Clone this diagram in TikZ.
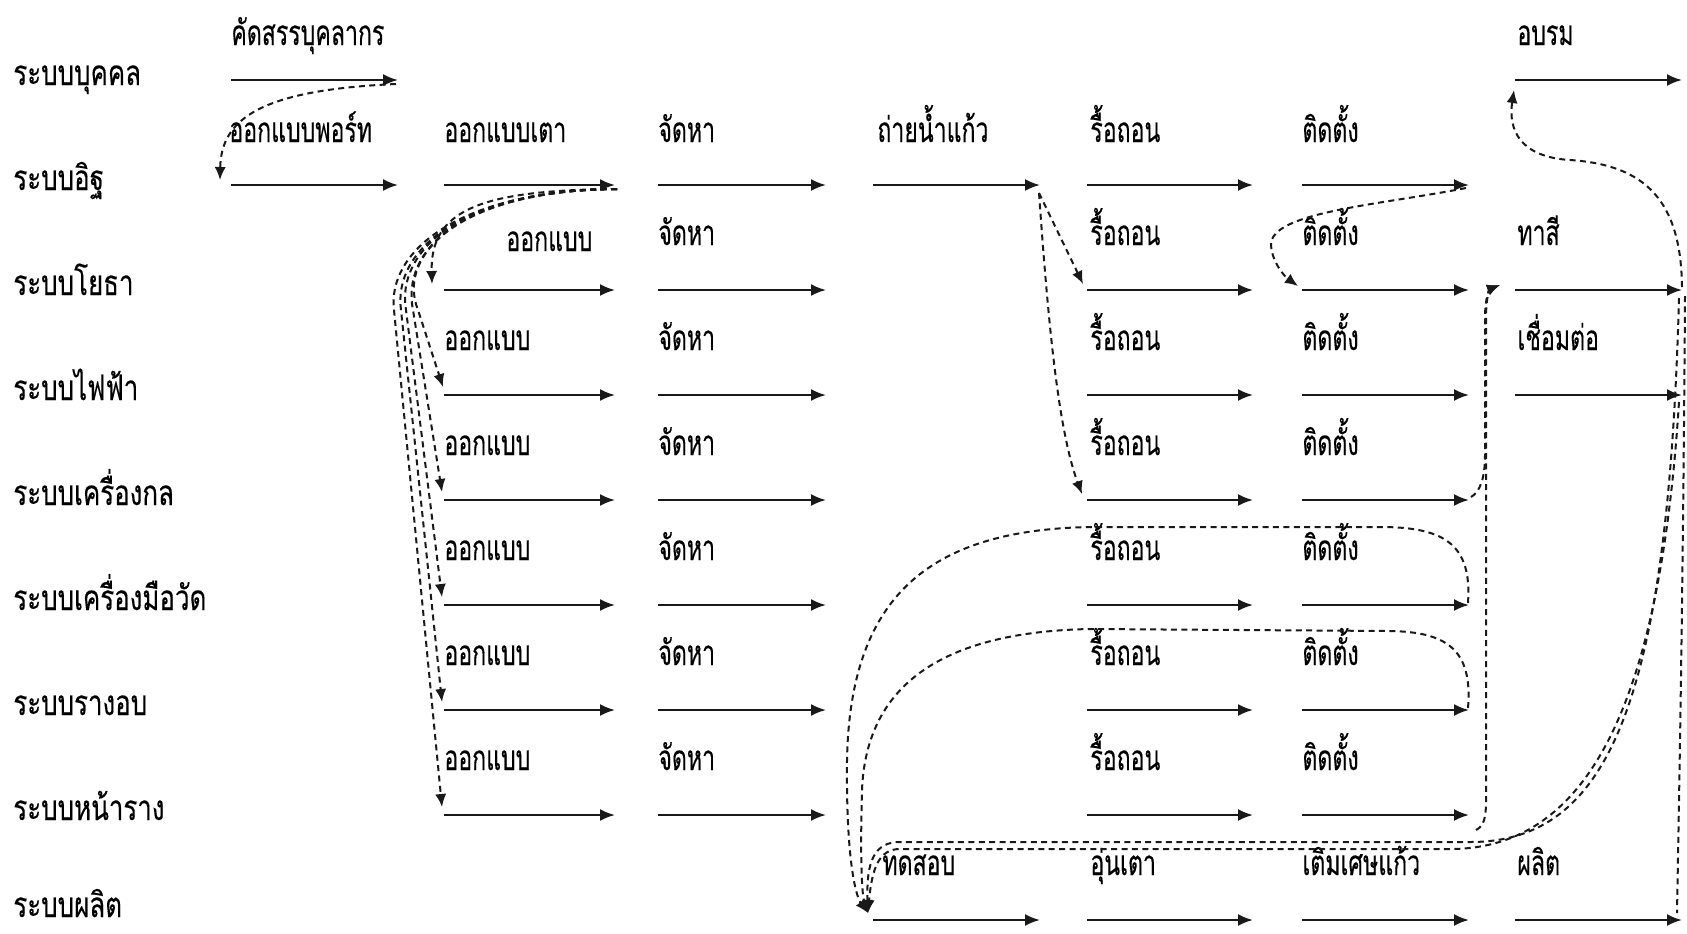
\documentclass[tikz,border=0pt]{standalone}
\usepackage{fontspec}
\newfontfamily\thaifont[Script=Thai,FakeStretch=0.66,FakeBold=0.3]{Loma}
\newfontfamily\lanefont[Script=Thai,FakeStretch=0.74,FakeBold=0.3]{Loma}
\usetikzlibrary{arrows.meta}

\begin{document}
\begin{tikzpicture}[x=0.5pt,y=-0.5pt,
  flow/.style={draw=black!90,line width=1.1pt,-{Latex[length=7.5pt,width=6pt]}},
  link/.style={draw=black!90,line width=1pt,dash pattern=on 3pt off 2.2pt,-{Latex[length=6.5pt,width=5.6pt]}},
  trail/.style={draw=black!90,line width=1pt,dash pattern=on 3pt off 2.2pt},
  txt/.style={anchor=base west,inner sep=0pt,font=\thaifont\fontsize{17.5pt}{17.5pt}\selectfont,text=black},
  lane/.style={anchor=base west,inner sep=0pt,font=\lanefont\fontsize{17.5pt}{17.5pt}\selectfont,text=black}]

\fill[white] (0,0) rectangle (1687,933);
\useasboundingbox (0,0) rectangle (1687,933);

% lane heights and column extents
\foreach \r/\y in {1/80,2/185,3/290,4/395,5/500,6/605,7/710,8/815,9/920}{
  \foreach \c/\xs/\xe in {1/231/398,2/444/615,3/658/826,4/873/1040,5/1087/1253,6/1302/1469,7/1515/1682}{
    \coordinate (s\r\c) at (\xs,\y);
    \coordinate (e\r\c) at (\xe,\y);
  }
}

% lane names
\foreach \r/\y/\t in {1/85/ระบบบุคคล,2/190/ระบบอิฐ,3/295/ระบบโยธา,4/400/ระบบไฟฟ้า,5/505/ระบบเครื่องกล,6/610/ระบบเครื่องมือวัด,7/715/ระบบรางอบ,8/820/ระบบหน้าราง,9/917/ระบบผลิต}
  \node[lane] (lane\r) at (13,\y) {\t};

% activity arrows
\foreach \p in {11,17,21,22,23,24,25,26,32,33,35,36,37,42,43,45,46,47,
                52,53,55,56,62,63,65,66,72,73,75,76,82,83,85,86,94,95,96,97}
  \draw[flow] (s\p) -- (e\p);

% activity names
\node[txt] (l11) at (231,45) {คัดสรรบุคลากร};
\node[txt] (l17) at (1517,45) {อบรม};
\node[txt] (l21) at (229,142) {ออกแบบพอร์ท};
\node[txt] (l22) at (444,142) {ออกแบบเตา};
\node[txt] (l23) at (658,142) {จัดหา};
\node[txt] (l24) at (877,142) {ถ่ายน้ำแก้ว};
\node[txt] (l25) at (1090,142) {รื้อถอน};
\node[txt] (l26) at (1302,142) {ติดตั้ง};
\node[txt] (l32) at (506,251) {ออกแบบ};
\node[txt] (l33) at (658,245) {จัดหา};
\node[txt] (l35) at (1090,245) {รื้อถอน};
\node[txt] (l36) at (1302,245) {ติดตั้ง};
\node[txt] (l37) at (1517,245) {ทาสี};
\node[txt] (l47) at (1517,350) {เชื่อมต่อ};
\foreach \r/\y in {4/350,5/455,6/560,7/665,8/770}{
  \node[txt] (l\r2) at (444,\y) {ออกแบบ};
  \node[txt] (l\r3) at (658,\y) {จัดหา};
  \node[txt] (l\r5) at (1090,\y) {รื้อถอน};
  \node[txt] (l\r6) at (1302,\y) {ติดตั้ง};
}
\node[txt] (l94) at (882,875) {ทดสอบ};
\node[txt] (l95) at (1090,875) {อุ่นเตา};
\node[txt] (l96) at (1302,875) {เติมเศษแก้ว};
\node[txt] (l97) at (1517,875) {ผลิต};

% end points of the dependency links
\coordinate (pA) at (396,84);    \coordinate (tA) at (220,180);
\coordinate (pB) at (617,189);
\coordinate (t3) at (432,284);   \coordinate (t4) at (443,387);
\coordinate (t5) at (442,492);   \coordinate (t6) at (442,597);
\coordinate (t7) at (442,702);   \coordinate (t8) at (442,807);
\coordinate (pC) at (1039,193);
\coordinate (tC3) at (1083,284); \coordinate (tC5) at (1082,494);
\coordinate (pD) at (1466,188);  \coordinate (tD) at (1298,286);
\coordinate (pE) at (1682,287);  \coordinate (tE) at (1514,90);
\coordinate (pP) at (1500,285);
\coordinate (q8) at (1476,830);  \coordinate (q5) at (1471,497);
\coordinate (pT) at (868,913);

% staffing before port design
\draw[link] (pA) .. controls (262,90) and (221,118) .. (tA);

% furnace design feeds every system design
\draw[link] (pB) .. controls (480,190) and (430,210) .. (t3);
\draw[link] (pB) .. controls (460,190) and (396,255) .. (418,310) -- (t4);
\draw[link] (pB) .. controls (460,190) and (401,251) .. (413,310) -- (t5);
\draw[link] (pB) .. controls (460,190) and (396,251) .. (406,310) -- (t6);
\draw[link] (pB) .. controls (460,190) and (393,251) .. (401,310) -- (t7);
\draw[link] (pB) .. controls (460,190) and (387,251) .. (394,310) -- (t8);

% draining the glass before dismantling
\draw[link] (pC) -- (tC3);
\draw[link] (pC) .. controls (1048,320) and (1058,430) .. (tC5);

% brick installation before civil installation
\draw[link] (pD) .. controls (1380,205) and (1270,212) .. (1271,245)
                 .. controls (1272,262) and (1284,276) .. (tD);

% painting before training
\draw[link] (pE) .. controls (1681,200) and (1645,165) .. (1570,160)
                 .. controls (1520,157) and (1508,130) .. (tE);

% installations before painting
\draw[link] (q8) .. controls (1484,826) and (1486,818) .. (1486,800) -- (1486,318)
                 .. controls (1486,296) and (1490,289) .. (pP);
\draw[link] (q5) .. controls (1480,492) and (1485,478) .. (1485,455) -- (1485,318)
                 .. controls (1485,296) and (1490,289) .. (pP);

% right-hand links down to testing and production
\draw[trail] (1685,296) .. controls (1683,600) and (1679,800) .. (1677,913);
\draw[link] (1679,298) .. controls (1668,700) and (1610,842) .. (1470,842) -- (900,842)
                 .. controls (875,842) and (866,860) .. (pT);
\draw[link] (1679,402) .. controls (1660,700) and (1590,849) .. (1450,849) -- (900,849)
                 .. controls (880,849) and (872,866) .. (pT);

% installations before testing
\draw[link] (1468,603) .. controls (1472,545) and (1445,528) .. (1385,527) -- (1090,527)
                 .. controls (925,530) and (850,600) .. (847,760)
                 .. controls (846,855) and (855,895) .. (pT);
\draw[link] (1468,708) .. controls (1473,648) and (1445,632) .. (1390,631) -- (1090,629)
                 .. controls (935,632) and (866,690) .. (862,790)
                 .. controls (860,860) and (862,895) .. (pT);
\end{tikzpicture}
\end{document}
